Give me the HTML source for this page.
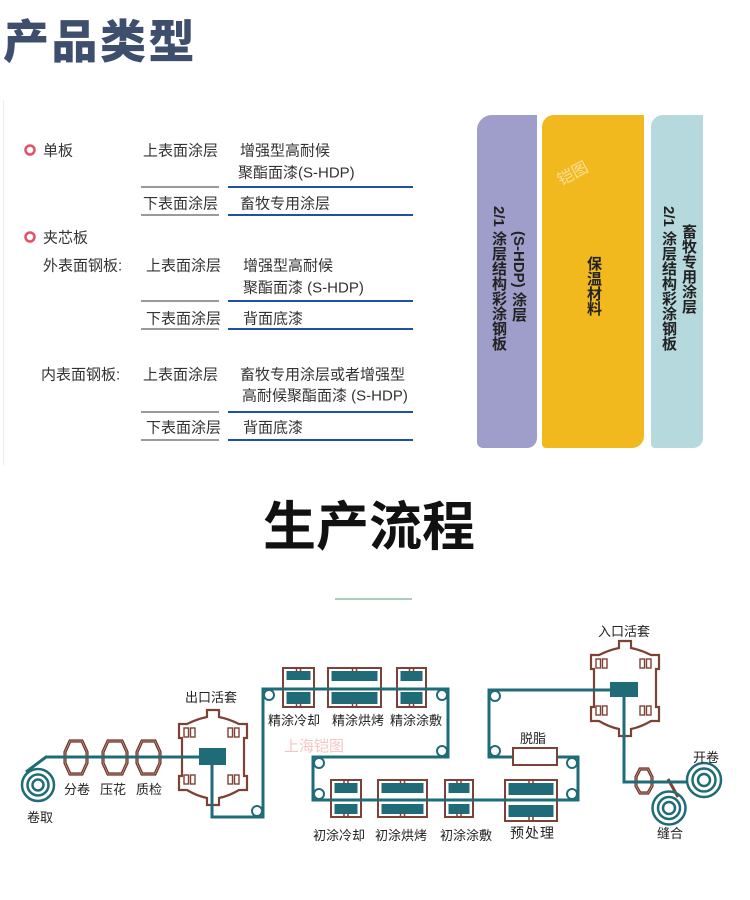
<!DOCTYPE html>
<html><head><meta charset="utf-8">
<style>
html,body{margin:0;padding:0;background:#fff;}
body{width:750px;height:900px;position:relative;overflow:hidden;font-family:"Liberation Sans","Noto Sans CJK SC",sans-serif;}
.panel{position:absolute;top:115px;height:333px;}
.vt{position:absolute;writing-mode:vertical-rl;font-size:15px;line-height:20px;width:20px;font-weight:700;color:#222;white-space:nowrap;font-family:"Liberation Sans","Noto Sans CJK SC",sans-serif;}
svg{position:absolute;left:0;top:0;}
</style></head><body>
<div style="position:absolute;left:3px;top:100px;width:1px;height:365px;background:#ececec"></div>
<div class="panel" style="left:477px;width:60px;background:#9f9ecb;border-radius:15px 0 10px 6px"></div>
<div class="panel" style="left:542px;width:102px;background:#f2b91e;border-radius:12px 0 12px 4px"></div>
<div class="panel" style="left:651px;width:52px;background:#b5d9dd;border-radius:12px 0 10px 4px"></div>
<div class="vt" style="left:508px;top:231px">(S-HDP) 涂层</div>
<div class="vt" style="left:488px;top:206px">2/1 涂层结构彩涂钢板</div>
<div class="vt" style="left:583px;top:256px">保温材料</div>
<div class="vt" style="left:678px;top:224px">畜牧专用涂层</div>
<div class="vt" style="left:658px;top:206px">2/1 涂层结构彩涂钢板</div>
<div style="position:absolute;left:556px;top:160px;font-size:16px;color:rgba(255,255,255,0.55);transform:rotate(-28deg);font-family:'Liberation Sans','Noto Sans CJK SC',sans-serif">铠图</div>

<svg width="750" height="900" viewBox="0 0 750 900" font-family="Liberation Sans, Noto Sans CJK SC, sans-serif">
<!-- titles -->
<text x="3" y="58" font-size="46" font-weight="900" fill="#3d4f6c" letter-spacing="2.5">产品类型</text>
<text x="263" y="545" font-size="53" font-weight="700" fill="#111">生产流程</text>
<rect x="335" y="598" width="77" height="2" fill="#a9cdb8"/>

<!-- table -->
<g font-size="15" fill="#333">
<circle cx="30" cy="150" r="4.5" fill="none" stroke="#e5506a" stroke-width="2.5"/>
<text x="43" y="155.5">单板</text>
<text x="143" y="155.5">上表面涂层</text>
<text x="240" y="155.5">增强型高耐候</text>
<text x="238" y="177.5">聚酯面漆(S-HDP)</text>
<text x="143" y="208.5">下表面涂层</text>
<text x="240" y="208.5">畜牧专用涂层</text>
<circle cx="30" cy="237" r="4.5" fill="none" stroke="#e5506a" stroke-width="2.5"/>
<text x="43" y="242.5">夹芯板</text>
<text x="43" y="270.5">外表面钢板:</text>
<text x="146" y="270.5">上表面涂层</text>
<text x="243" y="270.5">增强型高耐候</text>
<text x="243" y="292.5">聚酯面漆 (S-HDP)</text>
<text x="146" y="323.5">下表面涂层</text>
<text x="243" y="323.5">背面底漆</text>
<text x="41" y="379.5">内表面钢板:</text>
<text x="143" y="379.5">上表面涂层</text>
<text x="240" y="379.5">畜牧专用涂层或者增强型</text>
<text x="242" y="400.5">高耐候聚酯面漆 (S-HDP)</text>
<text x="146" y="432.5">下表面涂层</text>
<text x="243" y="432.5">背面底漆</text>
</g>
<g>
<rect x="141" y="186" width="78" height="2" fill="#9a9a9a"/><rect x="228" y="186" width="185" height="2" fill="#1f4fa8"/>
<rect x="141" y="214" width="78" height="2" fill="#9a9a9a"/><rect x="228" y="214" width="185" height="2" fill="#1f4fa8"/>
<rect x="141" y="300" width="78" height="2" fill="#9a9a9a"/><rect x="228" y="300" width="185" height="2" fill="#1f4fa8"/>
<rect x="141" y="328" width="78" height="2" fill="#9a9a9a"/><rect x="228" y="328" width="185" height="2" fill="#1f4fa8"/>
<rect x="141" y="411" width="78" height="2" fill="#9a9a9a"/><rect x="228" y="411" width="185" height="2" fill="#1f4fa8"/>
<rect x="141" y="439" width="78" height="2" fill="#9a9a9a"/><rect x="228" y="439" width="185" height="2" fill="#1f4fa8"/>
</g>

<!-- diagram shapes -->
<g stroke="#6e3529" stroke-width="3.2" fill="#fff">
<polygon points="70,741 82,741 87,752 87,763 82,774 70,774 65,763 65,752"/>
<polygon points="108,741 122,741 127,752 127,763 122,774 108,774 103,763 103,752"/>
<polygon points="142,741 155,741 160,752 160,763 155,774 142,774 137,763 137,752"/>
<polygon points="640,769 648,769 652,777 652,786 648,793 640,793 636,786 636,777"/>
</g>
<g stroke="#c99a8e" stroke-width="0.8" fill="none">
<polygon points="70,741 82,741 87,752 87,763 82,774 70,774 65,763 65,752"/>
<polygon points="108,741 122,741 127,752 127,763 122,774 108,774 103,763 103,752"/>
<polygon points="142,741 155,741 160,752 160,763 155,774 142,774 137,763 137,752"/>
<polygon points="640,769 648,769 652,777 652,786 648,793 640,793 636,786 636,777"/>
</g>
<line x1="668" y1="779" x2="678" y2="797" stroke="#7d4135" stroke-width="3"/>

<!-- loopers -->
<g transform="translate(177,710)" stroke="#7d4135" stroke-width="2.2" fill="#fff">
<path d="M30,0 H42 V7 Q52,9 62,14 H70 V28 H67 V66 H70 V80 H62 Q52,86 42,88 V95 H30 V88 Q20,86 10,80 H2 V66 H5 V28 H2 V14 H10 Q20,9 30,7 Z"/>
<g stroke-width="1.4">
<rect x="7" y="18" width="4.5" height="9"/><rect x="13.5" y="18" width="4.5" height="9"/>
<rect x="51" y="18" width="4.5" height="9"/><rect x="57.5" y="18" width="4.5" height="9"/>
<rect x="7" y="65" width="4.5" height="9"/><rect x="13.5" y="65" width="4.5" height="9"/>
<rect x="51" y="65" width="4.5" height="9"/><rect x="57.5" y="65" width="4.5" height="9"/>
</g>
</g>
<g transform="translate(589,641)" stroke="#7d4135" stroke-width="2.2" fill="#fff">
<path d="M30,0 H42 V7 Q52,9 62,14 H70 V28 H67 V66 H70 V80 H62 Q52,86 42,88 V95 H30 V88 Q20,86 10,80 H2 V66 H5 V28 H2 V14 H10 Q20,9 30,7 Z"/>
<g stroke-width="1.4">
<rect x="7" y="18" width="4.5" height="9"/><rect x="13.5" y="18" width="4.5" height="9"/>
<rect x="51" y="18" width="4.5" height="9"/><rect x="57.5" y="18" width="4.5" height="9"/>
<rect x="7" y="65" width="4.5" height="9"/><rect x="13.5" y="65" width="4.5" height="9"/>
<rect x="51" y="65" width="4.5" height="9"/><rect x="57.5" y="65" width="4.5" height="9"/>
</g>
</g>

<!-- process units -->
<g>
<rect x="283" y="668" width="31" height="39" fill="#fff" stroke="#7d4135" stroke-width="2"/>
<rect x="286.5" y="671" width="24" height="9" fill="#1f6c78"/><rect x="286.5" y="692" width="24" height="12" fill="#1f6c78"/>
<rect x="328" y="668" width="53" height="39" fill="#fff" stroke="#7d4135" stroke-width="2"/>
<rect x="331.5" y="671" width="46" height="10" fill="#1f6c78"/><rect x="331.5" y="692" width="46" height="12" fill="#1f6c78"/>
<rect x="397" y="668" width="29" height="39" fill="#fff" stroke="#7d4135" stroke-width="2"/>
<rect x="400.5" y="671" width="22" height="10" fill="#1f6c78"/><rect x="400.5" y="692" width="22" height="12" fill="#1f6c78"/>
<rect x="331" y="780" width="30" height="37" fill="#fff" stroke="#7d4135" stroke-width="2"/>
<rect x="334.5" y="783" width="23" height="10" fill="#1f6c78"/><rect x="334.5" y="804" width="23" height="10" fill="#1f6c78"/>
<rect x="378" y="780" width="49" height="37" fill="#fff" stroke="#7d4135" stroke-width="2"/>
<rect x="381.5" y="783" width="42" height="10" fill="#1f6c78"/><rect x="381.5" y="804" width="42" height="10" fill="#1f6c78"/>
<rect x="445" y="780" width="28" height="37" fill="#fff" stroke="#7d4135" stroke-width="2"/>
<rect x="448.5" y="783" width="21" height="10" fill="#1f6c78"/><rect x="448.5" y="804" width="21" height="10" fill="#1f6c78"/>
<rect x="505" y="780" width="52" height="41" fill="#fff" stroke="#7d4135" stroke-width="2"/>
<rect x="508.5" y="783" width="45" height="12" fill="#1f6c78"/><rect x="508.5" y="805" width="45" height="12" fill="#1f6c78"/>
<g stroke="#7d4135" stroke-width="1.5">
<path d="M296.5,668v4M300.5,668v4M296.5,707v-4M300.5,707v-4"/>
<path d="M352.5,668v4M356.5,668v4M352.5,707v-4M356.5,707v-4"/>
<path d="M409.5,668v4M413.5,668v4M409.5,707v-4M413.5,707v-4"/>
<path d="M344,780v4M348,780v4M344,817v-4M348,817v-4"/>
<path d="M400.5,780v4M404.5,780v4M400.5,817v-4M404.5,817v-4"/>
<path d="M457,780v4M461,780v4M457,817v-4M461,817v-4"/>
<path d="M529,780v4M533,780v4M529,821v-4M533,821v-4"/>
</g>
</g>

<!-- teal lines -->
<g fill="none" stroke="#1f6c78" stroke-width="3" stroke-linejoin="miter">
<path d="M26,772 L46,757 H200"/>
<path d="M212,765 V817 H263 V689 H448 V757 H313 V800 H578 V757 H557"/>
<path d="M513,757 H489 V690 H610"/>
<path d="M624,697 V782 H687"/>
</g>
<rect x="199" y="748" width="27" height="17" fill="#1f6c78"/>
<rect x="610" y="682" width="28" height="15" fill="#1f6c78"/>
<rect x="513" y="748" width="44" height="17" fill="#fff" stroke="#7d4135" stroke-width="2"/>

<!-- coils -->
<g fill="none" stroke="#1f6c78" stroke-width="2.5">
<circle cx="38" cy="785" r="16"/><circle cx="38" cy="785" r="10.5"/><circle cx="38" cy="785" r="5.5"/>
<circle cx="704" cy="780" r="17"/><circle cx="704" cy="780" r="11.5"/><circle cx="704" cy="780" r="6"/>
<circle cx="669" cy="808" r="16.5"/><circle cx="669" cy="808" r="11"/><circle cx="669" cy="808" r="6"/>
</g>

<!-- corner circles -->
<g fill="#fff" stroke="#1f6c78" stroke-width="2">
<circle cx="269" cy="695" r="5"/>
<circle cx="442" cy="695" r="5"/>
<circle cx="442" cy="751" r="5"/>
<circle cx="319" cy="763" r="5"/>
<circle cx="319" cy="794" r="5"/>
<circle cx="257" cy="811" r="5"/>
<circle cx="572" cy="794" r="5"/>
<circle cx="572" cy="763" r="5"/>
<circle cx="495" cy="751" r="5"/>
<circle cx="495" cy="696" r="5"/>
</g>

<!-- labels -->
<g font-size="13" fill="#222">
<text x="185" y="702">出口活套</text>
<text x="598" y="636">入口活套</text>
<text x="268" y="725">精涂冷却</text>
<text x="332" y="725">精涂烘烤</text>
<text x="390" y="725">精涂涂敷</text>
<text x="313" y="840">初涂冷却</text>
<text x="375" y="840">初涂烘烤</text>
<text x="440" y="840">初涂涂敷</text>
<text x="510" y="838" font-size="14" letter-spacing="1">预处理</text>
<text x="520" y="743">脱脂</text>
<text x="693" y="762">开卷</text>
<text x="657" y="838">缝合</text>
<text x="64" y="794">分卷</text>
<text x="100" y="794">压花</text>
<text x="136" y="794">质检</text>
<text x="27" y="822">卷取</text>
</g>
<text x="284" y="751" font-size="15" fill="#f7c5c5">上海铠图</text>
</svg>
</body></html>
